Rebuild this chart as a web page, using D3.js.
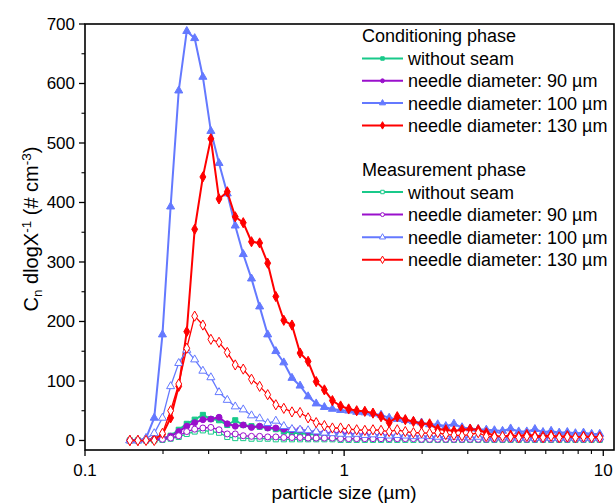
<!DOCTYPE html>
<html><head><meta charset="utf-8">
<script src="https://cdn.jsdelivr.net/npm/d3@7"></script>
<style>
html,body{margin:0;padding:0;background:#fff;}
text{font-family:"Liberation Sans",Arial,sans-serif;fill:#000;}
</style></head>
<body><svg id="c" width="615" height="504"></svg>
<script>
// particle size channels (µm)
const sizes = [0.149,0.160,0.172,0.185,0.199,0.214,0.230,0.247,0.265,0.285,0.306,0.329,0.354,0.380,0.408,0.439,0.472,0.507,0.545,0.585,0.629,0.676,0.726,0.780,0.839,0.901,0.969,1.041,1.118,1.202,1.292,1.388,1.492,1.603,1.722,1.851,1.989,2.137,2.297,2.468,2.653,2.850,3.063,3.292,3.537,3.801,4.085,4.390,4.717,5.069,5.447,5.854,6.291,6.760,7.265,7.807,8.389,9.015,9.688];

// Conditioning phase
const condWithout = [0,0,0,1,3,8,18,28,35,43, 36,34,26,34,26,24,23,21,19,15, 13,12,11,10,10,9,9,8,8,7, 7,7,6,6,6,5,5,5,5,4, 4,4,4,4,3,3,3,3,3,3, 3,3,3,3,3,3,3,3,3];
const cond90 = [0,0,0,1,3,7,15,24,30,35, 36,39,28,24,26,22,24,21,21,19, 18,18,15,14,13,12,12,11,10,10, 9,9,8,8,7,7,6,6,6,5, 5,5,4,4,4,3,3,3,3,3, 3,3,3,3,3,3,3,3,3];
const cond100 = [0,0,4,38,178,393,588,688,676,611, 520,466,415,361,313,272,225,178,150,131, 105,92,74,62,56,53,51,50,48,47, 45,43,38,36,34,32,30,27,27,24, 28,22,20,19,18,17,16,20,15,15, 19,14,16,13,14,12,13,11,11];
const cond130 = [0,0,1,3,10,38,91,183,355,443, 507,406,418,376,366,334,332,298,242,202, 194,147,133,99,85,67,58,53,50,49, 46,40,30,40,35,32,28,28,19,18, 16,18,19,18,13,8,6,9,7,10, 8,7,9,6,8,5,7,6,6];

// Measurement phase
const measWithout = [0,0,0,0,1,3,6,11,15,17, 15,13,6,4,4,3,3,3,2,2, 2,2,2,2,2,2,1,1,1,1, 1,1,1,1,1,1,1,1,1,1, 1,1,1,1,1,1,1,1,1,1, 1,1,1,1,1,1,1,1,1];
const meas90 = [0,0,0,1,2,4,8,15,19,21, 22,18,11,11,8,7,7,6,6,5, 5,5,4,4,4,4,3,3,3,3, 3,3,3,3,3,3,2,2,2,2, 2,2,2,2,2,2,2,2,2,2, 2,2,2,2,2,2,2,2,2];
const meas100 = [0,0,3,12,38,91,130,152,136,117, 106,81,68,57,52,42,37,29,33,24, 19,18,17,15,13,12,11,10,11,9, 10,9,8,9,8,7,8,7,6,7, 6,6,5,6,5,5,6,5,4,5, 4,5,4,4,5,4,4,4,5];
const meas130 = [0,0,0,0,12,50,95,155,209,194, 170,165,148,127,120,103,91,77,60,54, 48,47,38,30,25,21,21,19,18,17, 18,17,15,18,15,13,13,12,13,10, 9,8,10,13,7,6,7,6,5,7, 6,5,7,5,6,5,6,5,5];

const seriesLabels = ["without seam","needle diameter: 90 µm","needle diameter: 100 µm","needle diameter: 130 µm"];
const groupTitles = ["Conditioning phase","Measurement phase"];
const yTicks = [0,100,200,300,400,500,600,700];
const xTickLabels = [0.1,1,10];

const colors = ["#19C98A","#9A10CC","#6479FF","#FF0000"];
const shapes = [d3.symbolSquare, d3.symbolCircle, d3.symbolTriangle, d3.symbolDiamond];
const symSize = [26, 28, 28, 30];
const legSymSize = [12, 12, 16, 16];

const svg = d3.select("#c");
const L = 85, R = 614, T = 24, B = 450;
const x = d3.scaleLog().domain([0.1, 11]).range([L, R]);
const y = d3.scaleLinear().domain([-16, 700]).range([B, T]);

// frame
svg.append("rect").attr("x", L).attr("y", T).attr("width", R - L).attr("height", B - T)
  .attr("fill", "none").attr("stroke", "#000").attr("stroke-width", 1.6);

// y axis
const yMinor = d3.range(50, 700, 100);
const yAx = svg.append("g").attr("transform", `translate(${L},0)`);
yAx.selectAll("line.maj").data(yTicks).join("line").attr("x1", 0).attr("x2", -6)
  .attr("y1", d => y(d)).attr("y2", d => y(d)).attr("stroke", "#000").attr("stroke-width", 1.3);
yAx.selectAll("line.min").data(yMinor).join("line").attr("x1", 0).attr("x2", -3.5)
  .attr("y1", d => y(d)).attr("y2", d => y(d)).attr("stroke", "#000").attr("stroke-width", 1.1);
yAx.selectAll("text").data(yTicks).join("text").attr("x", -10).attr("y", d => y(d))
  .attr("dy", "0.35em").attr("text-anchor", "end").style("font-size", "17px").text(d => d);

// x axis
const xMinor = [];
[0.1, 1].forEach(b => { for (let k = 2; k <= 9; k++) xMinor.push(b * k); });
const xAx = svg.append("g").attr("transform", `translate(0,${B})`);
xAx.selectAll("line.maj").data(xTickLabels).join("line").attr("x1", d => x(d)).attr("x2", d => x(d))
  .attr("y1", 0).attr("y2", 6).attr("stroke", "#000").attr("stroke-width", 1.3);
xAx.selectAll("line.min").data(xMinor).join("line").attr("x1", d => x(d)).attr("x2", d => x(d))
  .attr("y1", 0).attr("y2", 4).attr("stroke", "#000").attr("stroke-width", 1.1);
xAx.selectAll("text").data(xTickLabels).join("text").attr("x", d => x(d)).attr("y", 26)
  .attr("text-anchor", "middle").style("font-size", "17px").text(d => d);

// axis titles
svg.append("text").attr("x", (x(0.1) + x(10)) / 2).attr("y", 499).attr("text-anchor", "middle")
  .style("font-size", "19px").text("particle size (µm)");
const yt = svg.append("text").attr("transform", `translate(38,${(T + B) / 2 - 8}) rotate(-90)`)
  .attr("text-anchor", "middle").style("font-size", "20px");
yt.append("tspan").text("C");
yt.append("tspan").attr("baseline-shift", "-25%").style("font-size", "13.5px").text("n");
yt.append("tspan").text(" dlogX");
yt.append("tspan").attr("baseline-shift", "super").style("font-size", "13.5px").text("-1");
yt.append("tspan").text(" (# cm");
yt.append("tspan").attr("baseline-shift", "super").style("font-size", "13.5px").text("-3");
yt.append("tspan").text(")");

// data
const groups = [
  {open: false, data: [condWithout, cond90, cond100, cond130]},
  {open: true, data: [measWithout, meas90, meas100, meas130]}
];
const line = d3.line().x(d => x(d[0])).y(d => y(d[1]));
const plot = svg.append("g");
groups.forEach(g => {
  g.data.forEach((vals, s) => {
    const pts = sizes.map((d, i) => [d, vals[i]]);
    const gg = plot.append("g");
    gg.append("path").datum(pts).attr("d", line).attr("fill", "none")
      .attr("stroke", colors[s]).attr("stroke-width", g.open ? 1.3 : 2).attr("stroke-linejoin", "round");
    gg.selectAll("path.m").data(pts).join("path").attr("class", "m")
      .attr("transform", d => `translate(${x(d[0])},${y(d[1])})`)
      .attr("d", d3.symbol().type(shapes[s]).size(symSize[s]))
      .attr("fill", g.open ? "#fff" : colors[s]).attr("stroke", colors[s]).attr("stroke-width", 1);
  });
});

// legend
const leg = svg.append("g");
const legX = 362, lineLen = 41, textX = 408;
const headY = [42, 176], rowY0 = [58.5, 192], rowDy = [22.3, 22.6];
groups.forEach((g, gi) => {
  leg.append("text").attr("x", legX).attr("y", headY[gi]).style("font-size", "18px").text(groupTitles[gi]);
  seriesLabels.forEach((lab, s) => {
    const yy = rowY0[gi] + rowDy[gi] * s;
    leg.append("line").attr("x1", legX).attr("x2", legX + lineLen).attr("y1", yy).attr("y2", yy)
      .attr("stroke", colors[s]).attr("stroke-width", 2);
    leg.append("path").attr("transform", `translate(${legX + lineLen / 2},${yy})`)
      .attr("d", d3.symbol().type(shapes[s]).size(legSymSize[s]))
      .attr("fill", g.open ? "#fff" : colors[s]).attr("stroke", colors[s]).attr("stroke-width", 1);
    leg.append("text").attr("x", textX).attr("y", yy + 6.5).style("font-size", "18px").text(lab);
  });
});
</script></body></html>
